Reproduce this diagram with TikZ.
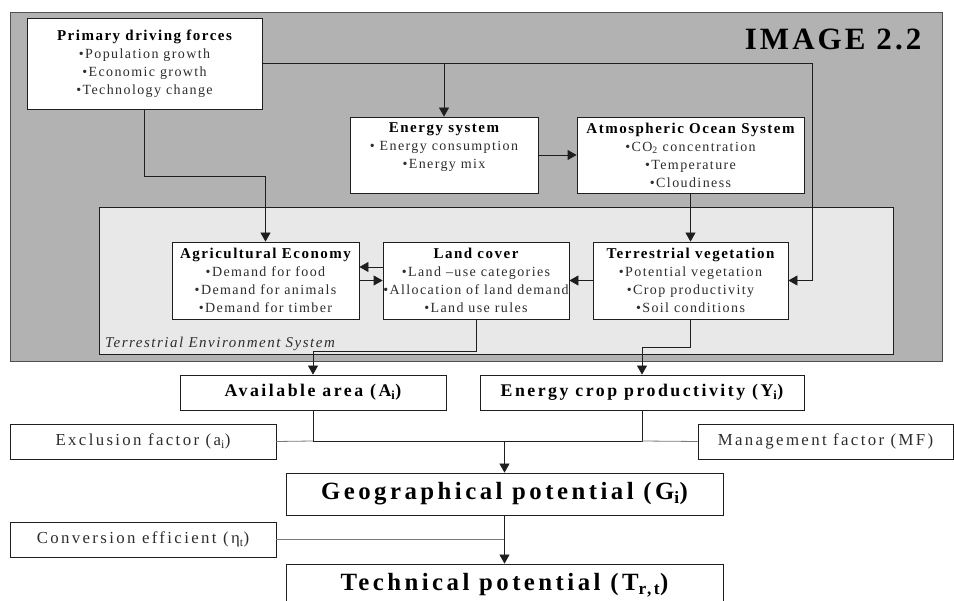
\documentclass[tikz,border=0pt]{standalone}
\usepackage{fontspec}
\setmainfont{Liberation Serif}
\newfontfamily\spaced[LetterSpace=10]{Liberation Serif}
\newfontfamily\wide[LetterSpace=14]{Liberation Serif}
\usetikzlibrary{arrows.meta}

\definecolor{outerfill}{RGB}{178,178,178}
\definecolor{innerfill}{RGB}{232,232,232}
\definecolor{frame}{RGB}{30,30,30}
\definecolor{outerframe}{RGB}{80,80,80}
\definecolor{bodytext}{RGB}{45,45,45}
\definecolor{feedline}{RGB}{120,120,120}

\tikzset{
  box/.style={draw=frame, fill=white, line width=0.8pt, inner sep=0pt, align=center},
  modelbox/.style={box, font=\spaced\fontsize{14}{18}\selectfont},
  resultbox/.style={box, font=\wide\bfseries\fontsize{17.8}{20}\selectfont},
  potbox/.style={box, font=\wide\bfseries\fontsize{24.8}{27}\selectfont},
  factorbox/.style={box, text=bodytext, font=\wide\fontsize{16.8}{20}\selectfont},
  arr/.style={draw=frame, line width=0.8pt, -{Triangle[length=9pt,width=10pt]}},
  link/.style={draw=frame, line width=0.8pt},
  feed/.style={draw=feedline, line width=0.8pt},
}
\newcommand{\ttl}[1]{{\bfseries\fontsize{15}{18}\selectfont #1}}
\newcommand{\itm}[1]{{\color{bodytext}#1}}

\begin{document}
\begin{tikzpicture}[x=1pt,y=-1pt]
\useasboundingbox (0,0) rectangle (954,601);
\clip (0,0) rectangle (954,601);

% model frame and terrestrial sub-system
\draw[draw=outerframe, fill=outerfill, line width=0.8pt] (10,12) rectangle (942,361);
\draw[draw=frame, fill=innerfill, line width=0.8pt] (99,207) rectangle (893,354);
\node[anchor=base east, font=\spaced\bfseries\fontsize{31}{36}\selectfont] (title) at (925,50) {IMAGE 2.2};

% model components
\node[modelbox, minimum width=235, minimum height=91] (pdf) at (144.5,63.5)
  {\ttl{Primary driving forces}\\ \itm{•Population growth}\\ \itm{•Economic growth}\\ \itm{•Technology change}};
\node[modelbox, minimum width=188, minimum height=76] (ene) at (444,155)
  {\ttl{Energy system}\\ \itm{• Energy consumption}\\ \itm{•Energy mix}\\ \mbox{}};
\node[modelbox, minimum width=227, minimum height=76] (atm) at (690.5,155)
  {\ttl{Atmospheric Ocean System}\\ \itm{•CO\textsubscript{2} concentration}\\ \itm{•Temperature}\\ \itm{•Cloudiness}};
\node[modelbox, minimum width=187, minimum height=77] (agr) at (265.5,280.5)
  {\ttl{Agricultural Economy}\\ \itm{•Demand for food}\\ \itm{•Demand for animals}\\ \itm{•Demand for timber}};
\node[modelbox, minimum width=186, minimum height=77] (lnd) at (476,280.5)
  {\ttl{Land cover}\\ \itm{•Land –use categories}\\ \itm{•Allocation of land demand}\\ \itm{•Land use rules}};
\node[modelbox, minimum width=195, minimum height=77] (veg) at (690.5,280.5)
  {\ttl{Terrestrial vegetation}\\ \itm{•Potential vegetation}\\ \itm{•Crop productivity}\\ \itm{•Soil conditions}};

% potential chain
\node[resultbox, minimum width=266, minimum height=35] (avl) at (313,392.5) {Available area (A\textsubscript{i})};
\node[resultbox, minimum width=324, minimum height=35] (ecp) at (642,392.5) {Energy crop productivity (Y\textsubscript{i})};
\node[factorbox, minimum width=266, minimum height=35] (exc) at (143,441.5) {Exclusion factor (a\textsubscript{i})};
\node[factorbox, minimum width=255, minimum height=35] (mgt) at (825.5,441.5) {Management factor (MF)};
\node[potbox, minimum width=437, minimum height=42] (geo) at (504.5,494) {Geographical potential (G\textsubscript{i})};
\node[factorbox, minimum width=266, minimum height=35] (cnv) at (143,539.5) {Conversion efficient (η\textsubscript{t})};
\node[potbox, minimum width=437, minimum height=42] (tec) at (504.5,585) {Technical potential (T\textsubscript{r,t})};

% routing points
\coordinate (rt) at (812,63.5);
\coordinate (rb) at (812,280.5);
\coordinate (k1) at (144.5,176);
\coordinate (k2) at (265.5,176);
\coordinate (l1) at (476,351);
\coordinate (l2) at (313,351);
\coordinate (v1) at (690.5,347);
\coordinate (v2) at (642,347);
\coordinate (j1) at (313,441);
\coordinate (j2) at (642,441);
\coordinate (jm) at (504.5,441);
\coordinate (jc) at (504.5,539.5);

% connectors inside the model
\draw[arr] (pdf.east) -- (rt) -- (rb) -- (veg.east);
\draw[arr] (pdf.east -| ene.north) -- (ene.north);
\draw[arr] (pdf.south) -- (k1) -- (k2) -- (agr.north);
\draw[arr] (ene.east) -- (atm.west);
\draw[arr] (atm.south) -- (veg.north);
\draw[arr] ([yshift=13.5pt]lnd.west) -- ([yshift=13.5pt]agr.east);
\draw[arr] (agr.east) -- (lnd.west);
\draw[arr] (veg.west) -- (lnd.east);

% connectors to the potentials
\draw[arr] (lnd.south) -- (l1) -- (l2) -- (avl.north);
\draw[arr] (veg.south) -- (v1) -- (v2) -- (ecp.north);
\draw[link] (avl.south) -- (j1) -- (j2) -- (ecp.south);
\draw[feed] (exc.east) -- (j1);
\draw[feed] (j2) -- (mgt.west);
\draw[arr] (jm) -- (geo.north);
\draw[feed] (cnv.east) -- (jc);
\draw[arr] (geo.south) -- (tec.north);

% sub-system caption, set over the land-cover connector
\node[anchor=base west, inner sep=0pt, text=bodytext, font=\spaced\itshape\fontsize{15}{18}\selectfont] (tes) at (105,348) {Terrestrial Environment System};
\end{tikzpicture}
\end{document}
